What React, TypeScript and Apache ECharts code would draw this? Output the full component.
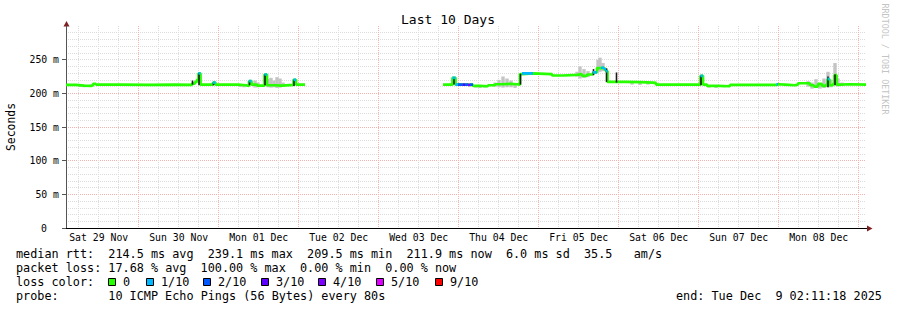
import React, { useEffect, useRef } from 'react';
import * as echarts from 'echarts';

// ---------- data ----------
const START_HOUR = 2 + 11 / 60 + 18 / 3600; // Sat 29 Nov 02:11:18
const SPAN_HOURS = 240;
const dayLabels = ['Sat 29 Nov', 'Sun 30 Nov', 'Mon 01 Dec', 'Tue 02 Dec', 'Wed 03 Dec', 'Thu 04 Dec', 'Fri 05 Dec', 'Sat 06 Dec', 'Sun 07 Dec', 'Mon 08 Dec'];
const yMajorTicks = [0, 50, 100, 150, 200, 250];
const Y_MAX = 300;

// [hours since start, median rtt (ms), lost pings out of 10]
const medianSeg1 = [
  [0, 212.5, 0], [3.0, 211.5, 0], [5.4, 211, 0], [7.5, 212, 0], [8.1, 214, 0], [9.0, 212.8, 0],
  [16.2, 212.5, 0], [25.2, 212.8, 0], [32.7, 212.5, 0], [37.8, 214.5, 0], [38.7, 217, 0], [39.3, 220, 0],
  [39.75, 229.5, 1], [40.35, 212.8, 0], [44.1, 216, 1], [44.85, 212.8, 0], [51.6, 212, 0], [54.0, 211, 0],
  [54.9, 218, 1], [55.65, 213, 0], [57.3, 211.5, 0], [59.55, 228, 1], [60.3, 212, 0], [62.4, 211.5, 0],
  [64.8, 212.5, 0], [68.25, 220, 1], [69.0, 212.8, 0], [71.7, 212.8, 0],
];
const medianSeg2 = [
  [113.1, 212.8, 0], [115.95, 223, 1], [116.85, 213, 1], [117.6, 213, 2], [119.1, 213, 3], [119.7, 213, 2],
  [120.6, 212.5, 4], [121.2, 212.8, 2], [122.1, 211, 0], [124.2, 210.5, 0], [126.6, 212, 0], [128.7, 213.5, 0],
  [130.8, 214, 0], [133.2, 213.5, 0], [135.3, 213, 0], [136.2, 228.5, 0], [136.8, 229.5, 1], [140.1, 229, 0],
  [143.7, 228.5, 0], [145.8, 226.5, 0], [149.1, 227.5, 0], [153.3, 228.5, 0], [154.8, 226, 0], [156.3, 228, 0],
  [158.1, 231, 1], [159.3, 237.5, 0], [160.5, 238, 1], [161.4, 236, 1], [162.0, 233, 1], [162.45, 217, 0],
  [167.7, 216.5, 0], [172.2, 216, 0], [176.1, 215.5, 0], [177.0, 213, 0], [190.35, 226, 1], [191.1, 213, 0],
  [192.3, 211, 0], [195.6, 210.5, 0], [199.2, 212.5, 0], [213.15, 213.5, 1], [213.6, 213, 0], [215.7, 212, 0],
  [218.7, 213, 0], [219.6, 215, 0], [223.2, 212, 0], [224.4, 210, 0], [225.6, 214, 0], [226.8, 211, 0],
  [228.0, 213, 0], [228.45, 221, 1], [229.05, 212, 0], [230.1, 214, 0], [230.55, 227, 0], [231.15, 213, 0],
  [232.2, 213.5, 0], [235.2, 213, 0], [240, 213, 0],
];

// smoke: [hours since start, low ms, high ms]
const smokeGray = [
  [4.2, 209.5, 213], [5.4, 209, 213], [6.6, 209.5, 212.5], [7.8, 210, 213],
  [52.2, 209.5, 213], [53.4, 209, 213], [56.7, 208.5, 219], [57.6, 209, 216],
  [60.6, 209, 221], [61.5, 208.5, 223], [62.4, 209, 219], [63.3, 208, 224], [64.2, 208.5, 222], [65.1, 210, 216],
  [123.0, 208.5, 212], [124.2, 208, 212], [125.7, 208.5, 212],
  [128.7, 210, 216], [129.9, 209, 220], [131.1, 208.5, 225], [132.3, 209, 222], [133.5, 209, 219], [134.7, 208, 214],
  [153.3, 225, 232], [154.2, 222, 240], [155.4, 223, 236], [156.6, 224, 233],
  [159.6, 233, 250], [160.2, 232, 253], [161.1, 233, 245],
  [169.8, 213, 216], [172.2, 212.5, 216], [174.6, 213, 216],
  [192.9, 208.5, 212], [195.0, 208, 212], [197.4, 209, 212],
  [222.6, 210, 218], [223.8, 207, 216], [225.0, 209, 221], [226.2, 207, 214], [227.4, 208, 222],
  [228.6, 209, 232], [229.5, 209, 220], [230.7, 212, 245], [231.6, 210, 222], [232.8, 211, 216],
];
const smokeDark = [
  [37.95, 213, 219], [39.9, 212, 230], [44.25, 212, 216], [55.05, 212, 218], [59.7, 212, 228], [68.4, 211, 220],
  [116.4, 213, 224], [136.35, 213, 229], [158.25, 227, 236], [162.15, 217, 237], [165.15, 216, 231],
  [190.5, 212, 226], [228.6, 209, 225], [230.7, 212, 228],
];

const lossLevels = [0, 1, 2, 3, 4, 5, 9];
const lossLabels = ['0', '1/10', '2/10', '3/10', '4/10', '5/10', '9/10'];
const lossColors = ['#26ff00', '#00b8ff', '#0059ff', '#5e00ff', '#7e00ff', '#dd00ff', '#ff0000'];

const legendRtt = 'median rtt:  214.5 ms avg  239.1 ms max  209.5 ms min  211.9 ms now  6.0 ms sd  35.5   am/s';
const legendLoss = 'packet loss: 17.68 % avg  100.00 % max  0.00 % min  0.00 % now';
const legendLossColor = 'loss color:';
const legendProbe = 'probe:       10 ICMP Echo Pings (56 Bytes) every 80s';
const legendEnd = 'end: Tue Dec  9 02:11:18 2025';

// ---------- layout ----------
const MONO = '"DejaVu Sans Mono", monospace';
const LEG_FONT = `11.8px ${MONO}`;
const CW = 7.1;
const GRID_L = 66, GRID_T = 26, GRID_W = 800, GRID_H = 202;
const legendBoxX = [108, 146, 203, 261, 318, 376, 435];
const MINOR_GRID = '#dcdcdc';
const MAJOR_GRID = '#f5b0b0';

function monoTokens(line: string, x0: number, y: number) {
  const out: any[] = [];
  const re = /\S+(?: \S+)*/g;
  let m: RegExpExecArray | null;
  while ((m = re.exec(line))) {
    out.push({
      type: 'text', x: x0 + m.index * CW, y, silent: true,
      style: { text: m[0], font: LEG_FONT, fill: '#000', textVerticalAlign: 'middle', verticalAlign: 'middle' },
    });
  }
  return out;
}

function buildOption() {
  const noonHours = dayLabels.map((_, k) => 12 - START_HOUR + 24 * k);
  const midnightHours = dayLabels.map((_, k) => 24 - START_HOUR + 24 * k);
  const sixHours: number[] = [];
  for (let h = 6 - START_HOUR; h < SPAN_HOURS; h += 6) sixHours.push(h);

  const segs = [medianSeg1, medianSeg2];
  const baseData: any[] = [];
  segs.forEach((seg, si) => {
    seg.forEach((p) => baseData.push([p[0], p[1]]));
    if (si < segs.length - 1) baseData.push([seg[seg.length - 1][0] + 0.01, '-']);
  });

  const overlaySeries: any[] = [];
  lossLevels.forEach((lvl, li) => {
    if (lvl === 0) return;
    const d: any[] = [];
    segs.forEach((seg) => {
      for (let i = 0; i < seg.length - 1; i++) {
        if (seg[i][2] === lvl) {
          d.push([seg[i][0], seg[i][1]], [seg[i + 1][0], seg[i][1]], [seg[i + 1][0], '-']);
        }
      }
    });
    if (d.length) {
      overlaySeries.push({
        type: 'line', xAxisIndex: 2, yAxisIndex: 1, data: d, symbol: 'none', showSymbol: false,
        lineStyle: { color: lossColors[li], width: 2.7 }, z: 6, silent: true,
      });
    }
  });

  const smokeSeries = (data: number[][], color: string, w: number, z: number) => ({
    type: 'custom', xAxisIndex: 2, yAxisIndex: 1, data, z, silent: true,
    encode: { x: 0, y: [1, 2] },
    renderItem: (params: any, api: any) => {
      const x = api.value(0), lo = api.value(1), hi = api.value(2);
      const pt = api.coord([x, hi]);
      const pb = api.coord([x, lo]);
      return { type: 'rect', shape: { x: pt[0] - w / 2, y: pt[1], width: w, height: pb[1] - pt[1] }, style: { fill: color } };
    },
  });

  const graphics: any[] = [
    { type: 'text', x: 448, y: 19, silent: true, style: { text: 'Last 10 Days', font: `13px ${MONO}`, fill: '#000', textAlign: 'center', align: 'center', textVerticalAlign: 'middle', verticalAlign: 'middle' } },
    { type: 'text', x: 11, y: 127, rotation: Math.PI / 2, silent: true, style: { text: 'Seconds', font: `11.4px ${MONO}`, fill: '#000', textAlign: 'center', align: 'center', textVerticalAlign: 'middle', verticalAlign: 'middle' } },
    { type: 'text', x: 885, y: 59, rotation: -Math.PI / 2, silent: true, style: { text: 'RRDTOOL / TOBI OETIKER', font: `8.4px ${MONO}`, fill: '#c4c4c4', textAlign: 'center', align: 'center', textVerticalAlign: 'middle', verticalAlign: 'middle' } },
    { type: 'line', silent: true, shape: { x1: 866, y1: 228.5, x2: 869, y2: 228.5 }, style: { stroke: '#000', lineWidth: 1 } },
    { type: 'polygon', silent: true, shape: { points: [[63.5, 26.5], [69.5, 26.5], [66.5, 21]] }, style: { fill: '#7f1f1f' } },
    { type: 'polygon', silent: true, shape: { points: [[867, 225.5], [867, 231.5], [872.5, 228.5]] }, style: { fill: '#7f1f1f' } },
    ...monoTokens(legendRtt, 16, 254),
    ...monoTokens(legendLoss, 16, 268),
    ...monoTokens(legendLossColor, 16, 282),
    ...monoTokens(legendProbe, 16, 296),
    ...monoTokens(legendEnd, 676, 296),
  ];
  lossLevels.forEach((_, i) => {
    graphics.push({ type: 'rect', silent: true, shape: { x: legendBoxX[i] + 0.5, y: 278.5, width: 7, height: 7 }, style: { fill: lossColors[i], stroke: '#000', lineWidth: 1 } });
    graphics.push({
      type: 'text', x: legendBoxX[i] + 15, y: 282, silent: true,
      style: { text: lossLabels[i], font: LEG_FONT, fill: '#000', textVerticalAlign: 'middle', verticalAlign: 'middle' },
    });
  });

  const axisFont = { fontFamily: MONO, fontSize: 9.8, color: '#000' };
  const hiddenX = (values: number[], color: string) => ({
    type: 'value', min: 0, max: SPAN_HOURS, gridIndex: 0, position: 'bottom',
    axisLine: { show: false }, axisLabel: { show: false },
    axisTick: { show: false, customValues: values },
    splitLine: { show: true, lineStyle: { color, width: 1, type: [1, 1] } },
  });

  return {
    animation: false,
    backgroundColor: '#ffffff',
    grid: { left: GRID_L, top: GRID_T, width: GRID_W, height: GRID_H, containLabel: false, outerBoundsMode: 'none' },
    xAxis: [
      hiddenX(sixHours, MINOR_GRID),
      hiddenX(midnightHours, MAJOR_GRID),
      {
        type: 'value', min: 0, max: SPAN_HOURS, position: 'bottom',
        axisLine: { show: true, onZero: false, lineStyle: { color: '#000', width: 1 } },
        axisTick: { show: false, customValues: noonHours },
        axisLabel: {
          show: true, customValues: noonHours, margin: 4, ...axisFont,
          formatter: (v: number) => dayLabels[Math.round((v - (12 - START_HOUR)) / 24)] ?? '',
        },
        splitLine: { show: false },
      },
    ],
    yAxis: [
      {
        type: 'value', min: 0, max: Y_MAX, interval: 10, position: 'right',
        axisLine: { show: false }, axisLabel: { show: false }, axisTick: { show: false },
        splitLine: { show: true, showMinLine: false, showMaxLine: false, lineStyle: { color: MINOR_GRID, width: 1, type: [1, 1] } },
      },
      {
        type: 'value', min: 0, max: Y_MAX, interval: 50, position: 'left',
        axisLine: { show: true, onZero: false, lineStyle: { color: '#555', width: 1 } },
        axisTick: { show: true, length: 4, customValues: yMajorTicks, lineStyle: { color: '#555' } },
        axisLabel: {
          show: true, margin: 7, customValues: yMajorTicks, ...axisFont,
          formatter: (v: number) => (v === 0 ? '{z|0}' : `${v} m`),
          rich: { z: { fontFamily: MONO, fontSize: 9.8, color: '#000', padding: [0, 12, 0, 0] } },
        },
        splitLine: { show: true, showMinLine: false, showMaxLine: false, lineStyle: { color: MAJOR_GRID, width: 1, type: [1, 1] } },
      },
    ],
    series: [
      smokeSeries(smokeGray, '#c4c4c4', 3.4, 2),
      {
        type: 'line', xAxisIndex: 2, yAxisIndex: 1, data: baseData, step: 'end', symbol: 'none', showSymbol: false,
        lineStyle: { color: lossColors[0], width: 2.7 }, z: 4, silent: true,
      },
      smokeSeries(smokeDark, '#1c1c1c', 1.6, 5),
      ...overlaySeries,
    ],
    graphic: { elements: graphics },
  };
}

export default function App() {
  const ref = useRef<HTMLDivElement>(null);
  useEffect(() => {
    if (!ref.current) return;
    const chart = echarts.init(ref.current, null, { renderer: 'svg', width: 897, height: 310 });
    chart.setOption(buildOption() as any);
    return () => chart.dispose();
  }, []);
  return <div ref={ref} style={{ position: 'absolute', left: 0, top: 0, width: 897, height: 310, background: '#fff' }} />;
}
